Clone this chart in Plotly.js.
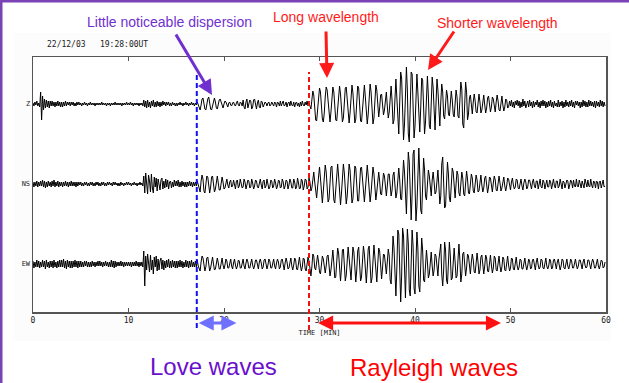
<!DOCTYPE html>
<html>
<head>
<meta charset="utf-8">
<script src="https://cdn.plot.ly/plotly-3.0.1.min.js"></script>
<style>
html,body{margin:0;padding:0;background:#fff;}
#chart{width:629px;height:383px;}
</style>
</head>
<body>
<div id="chart"></div>
<script>
var sampleStep = 0.1; // minutes
var channels = ['Z', 'NS', 'EW'];
var xTickVals = [0, 10, 20, 30, 40, 50, 60];
var xTickText = ['0', '10', '20', '30', '40', '50', '60'];
var recordStamp = '22/12/03   19:28:00UT';

var zTrace = [
 1,-2,2,-1,3,-2,1,-3,12,-16,
 8,-6,5,-4,4,-3,3,-4,3,-2,
 3,-2,2,-3,2,-2,3,-2,2,-3,
 2,-3,2,-2,3,-2,2,-1,2,-2,
 2,-1,2,-2,1,-2,2,-1,2,-1,
 1,-2,1,-1,2,-1,1,-2,1,-1,
 2,-1,1,-1,1,-2,1,-1,1,-1,
 1,-1,2,-1,1,-1,1,-2,1,-1,
 1,-2,1,-1,1,-1,2,-1,1,-1,
 1,-1,1,-2,1,-1,1,-1,2,-1,
 1,-1,2,-1,1,-2,1,-1,1,-1,
 1,-2,1,-1,1,-2,4,-3,3,-4,
 4,-3,2,-4,3,-2,4,-3,2,-3,
 3,-2,2,-3,2,-2,3,-1,2,-2,
 2,-1,2,-2,1,-2,2,-1,1,-2,
 1,-2,1,-1,2,-1,1,-2,1,-1,
 2,-1,1,-2,1,-1,2,-1,1,-2,
 1,-1,2,-1,-4,-6,-1,5,6,1,
 -5,-6,0,5,7,2,-5,-6,-1,4,
 6,2,-4,-5,0,4,5,1,-3,-4,
 0,3,2,-2,-3,1,2,-1,-2,1,
 2,-1,-2,1,3,-1,-2,2,1,-2,
 4,-3,-5,2,5,-4,-1,4,3,-5,
 -3,4,5,-2,-5,1,4,-3,-4,3,
 2,-3,-1,2,1,-2,1,2,-2,-1,
 2,-1,-2,2,1,-3,2,1,-2,3,
 -2,1,3,-2,-1,2,-3,1,2,-2,
 3,-1,-2,2,-3,1,2,-2,1,-3,
 2,-2,3,-1,-2,2,-1,3,-2,1,
 -2,-5,4,13,9,-6,-16,-17,-6,8,
 16,12,-2,-15,-18,-9,7,17,14,0,
 -14,-18,-8,8,17,12,-3,-16,-17,-4,
 11,18,10,-7,-18,-14,2,16,17,5,
 -12,-19,-9,9,19,11,-6,-19,-15,3,
 18,16,-1,-17,-18,-3,14,19,7,-11,
 -20,-10,9,20,12,-8,-20,-14,5,19,
 14,-6,-13,-4,9,10,-3,-11,-6,8,
 12,-2,-14,-8,10,18,3,-20,-16,12,
 25,6,-22,-30,2,32,26,-14,-36,-20,
 18,37,14,-30,-38,-5,32,30,-8,-34,
 -22,14,30,12,-20,-28,-4,26,24,-10,
 -30,-18,16,28,8,-22,-25,4,27,16,
 -18,-26,0,25,14,-14,-22,2,20,12,
 -12,-15,3,14,8,-10,-12,5,13,4,
 -10,-13,4,14,7,-12,-14,6,22,15,
 -20,-24,2,22,12,-16,-10,6,9,-4,
 -10,2,10,3,-8,-9,4,10,2,-9,
 -6,5,9,-1,-9,-4,6,8,-2,-8,
 -3,7,5,-5,-8,2,9,3,-6,-7,
 3,8,-1,-7,-3,5,4,-4,-3,3,
 -2,4,-3,2,-4,3,-1,4,-2,3,
 -4,2,-3,5,-2,3,-4,1,3,-3,
 4,-2,2,-4,3,-3,2,-1,4,-3,
 2,-4,3,-2,4,-2,3,-4,2,-3,
 3,-2,4,-3,2,-4,3,-2,1,-3,
 4,-3,2,-2,3,-4,2,-3,4,-2,
 2,-3,3,-2,4,-3,2,-4,3,-1,
 3,-2,2,-4,2,-3,4,-2,3,-3,
 2,-3,4,-2,3,-2,2,-3,3,-4,
 3,-2,2,-3,4,-2,3,-3,2,-2
];

var nsTrace = [
 2,-3,2,-2,3,-3,2,-2,3,-2,
 4,-3,3,-4,2,-3,3,-2,2,-3,
 3,-2,4,-3,2,-2,3,-3,2,-2,
 2,-3,2,-2,3,-2,2,-3,2,-2,
 3,-2,2,-2,2,-3,2,-2,2,-1,
 2,-2,1,-2,2,-1,2,-2,1,-2,
 2,-1,2,-2,1,-2,2,-1,2,-2,
 1,-2,2,-1,2,-2,1,-2,2,-1,
 2,-1,1,-2,2,-1,2,-1,1,-2,
 1,-2,2,-1,1,-2,1,-1,2,-1,
 2,-1,1,-2,1,-1,2,-1,1,-2,
 1,-1,2,-1,1,-2,8,-9,11,-6,
 -10,9,3,-8,10,-4,-9,7,-3,6,
 -7,5,-2,-6,4,6,-5,3,-4,5,
 -3,4,-5,2,3,-4,2,-3,4,-2,
 3,-2,4,-3,2,-3,3,-2,2,-3,
 2,-3,2,-2,3,-2,2,-3,2,-2,
 2,-2,3,-1,-6,-8,3,9,5,-7,
 -9,-1,8,7,-4,-9,-3,7,8,-2,
 -8,-5,5,8,1,-6,-6,3,7,2,
 -5,-4,3,5,-1,-4,2,4,-3,-2,
 4,-2,-5,3,4,-4,-2,5,1,-4,
 -3,5,2,-5,-1,4,3,-4,-3,5,
 1,-5,-2,4,3,-3,-4,2,5,-1,
 -5,3,4,-4,-2,5,1,-5,-3,4,
 3,-4,-2,5,1,-5,-2,4,3,-4,
 -3,5,2,-5,-2,4,3,-5,-1,5,
 2,-4,-4,5,2,-5,-3,6,1,-5,
 -4,5,3,-6,-2,5,4,-5,-3,6,
 2,-7,-4,8,12,2,-10,-14,-3,12,
 17,6,-12,-19,-7,10,19,12,-6,-18,
 -15,1,17,18,2,-16,-19,-4,14,20,
 8,-12,-21,-9,10,20,11,-9,-20,-12,
 7,20,14,-4,-19,-15,3,18,16,-2,
 -17,-17,-1,16,17,3,-14,-18,-6,13,
 19,8,-11,-18,-9,9,17,10,-7,-16,
 -8,7,12,3,-10,-11,2,11,8,-7,
 -12,-2,10,10,-3,-12,-6,9,12,-1,
 -14,-9,8,16,4,-15,-16,6,24,12,
 -20,-30,2,32,22,-18,-36,-10,30,34,
 -4,-37,-22,18,36,10,-26,-30,4,26,
 14,-12,-16,2,14,8,-8,-12,4,12,
 2,-10,-8,6,14,-2,-20,-12,20,27,
 6,-24,-22,8,22,10,-14,-18,2,16,
 12,-8,-14,0,13,9,-9,-12,3,12,
 6,-10,-12,4,13,5,-9,-10,2,10,
 6,-7,-9,3,9,4,-8,-7,4,9,
 -1,-8,-4,6,8,-2,-9,-3,7,6,
 -4,-8,1,8,4,-6,-7,3,8,1,
 -7,-4,5,7,-2,-7,-2,6,5,-4,
 -6,2,6,-1,-5,-3,5,4,-4,-5,
 3,5,-2,-6,1,5,2,-5,-3,4,
 4,-3,-5,2,5,-2,-4,3,3,-5,
 -1,5,-3,-4,4,2,-5,1,4,-3,
 -3,4,2,-5,-1,5,-2,-4,3,3,
 -4,-2,5,1,-5,3,2,-4,-1,4,
 3,-5,-1,4,2,-4,4,-2,-3,5,
 -2,-3,4,1,-4,3,-2,-4,5,-1,
 -3,4,-2,-3,5,-1,-4,3,2,-4,
 3,2,-5,2,3,-4,1,4,-3,-2
];

var ewTrace = [
 3,-4,2,-3,4,-3,3,-4,2,-3,
 4,-3,3,-5,4,-3,2,-4,3,-3,
 3,-4,4,-3,2,-4,3,-3,4,-3,
 4,-3,5,-4,3,-5,4,-3,3,-4,
 3,-4,3,-3,4,-3,3,-4,3,-3,
 3,-3,2,-3,3,-2,3,-3,2,-3,
 2,-3,3,-2,2,-3,2,-2,3,-2,
 3,-2,2,-3,2,-2,3,-2,2,-3,
 2,-3,4,-3,3,-4,3,-3,2,-2,
 2,-2,3,-2,2,-3,2,-2,2,-2,
 2,-2,2,-3,2,-2,2,-2,3,-2,
 2,-3,2,-2,2,-3,13,-22,8,-6,
 10,-4,-8,9,-6,4,-10,7,-3,8,
 -7,5,-6,3,6,-5,4,-6,3,-4,
 4,-3,5,-4,3,-4,4,-3,3,-4,
 3,-4,3,-3,4,-3,3,-4,2,-3,
 4,-3,3,-4,3,-3,4,-3,2,-3,
 3,-3,4,-2,-5,-7,2,8,6,-4,
 -7,-3,6,7,-2,-7,-4,5,7,0,
 -6,-5,4,6,1,-5,-5,3,6,-1,
 -5,-1,5,3,-4,-4,3,5,-2,-5,
 1,5,-1,-5,-2,4,3,-4,-4,3,
 5,-2,-5,1,5,2,-4,-4,3,5,
 -1,-5,-2,4,4,-3,-5,2,5,1,
 -5,-3,4,5,-2,-5,-1,5,3,-4,
 -4,3,5,-2,-5,1,5,2,-5,-3,
 4,5,-3,-6,1,6,2,-5,-4,4,
 6,-2,-6,-1,6,4,-5,-6,3,7,
 -1,-7,-3,6,5,-5,-7,2,7,3,
 -6,-12,-3,10,8,-4,-6,5,9,2,
 -8,-10,3,8,5,-4,-9,-2,8,9,
 -3,-12,-6,10,14,1,-14,-13,5,16,
 11,-9,-17,-4,14,15,-3,-17,-11,8,
 17,6,-12,-16,1,17,12,-8,-18,-6,
 13,17,-1,-17,-13,6,18,10,-10,-19,
 -4,15,18,-2,-19,-14,8,19,7,-13,
 -18,0,16,13,-7,-15,-4,10,9,-5,
 -10,2,15,8,-16,-20,6,28,16,-22,
 -32,-4,34,30,-16,-38,-12,36,28,-20,
 -34,2,35,20,-26,-32,8,34,18,-24,
 -30,6,32,16,-22,-28,4,26,14,-16,
 -18,6,14,2,-14,-10,8,12,-2,-12,
 -6,10,8,-8,-12,4,14,20,-10,-22,
 -6,22,14,-16,-20,6,22,8,-16,-14,
 6,16,2,-14,-12,8,20,4,-18,-10,
 10,12,-4,-12,-4,10,8,-6,-10,2,
 10,4,-8,-9,3,11,2,-10,-6,7,
 9,-3,-10,-2,9,6,-7,-8,4,9,
 -1,-9,-4,8,6,-6,-7,4,8,-2,
 -8,-3,7,5,-6,-7,3,8,-1,-7,
 -4,6,5,-5,-6,3,7,-2,-6,-3,
 5,4,-5,-5,2,6,-1,-6,-2,5,
 3,-5,-4,4,5,-3,-6,2,6,-1,
 -5,-3,5,4,-4,-5,3,6,-2,-5,
 -2,5,3,-5,-4,4,5,-3,-5,2,
 5,-1,-6,-2,5,4,-4,-5,3,5,
 -2,-5,-1,5,3,-4,-4,2,5,-1,
 -5,-2,4,4,-3,-5,2,5,-1,-4,
 -3,4,4,-3,-5,1,5,2,-4,-4,
 3,5,-2,-5,-1,4,3,-4,-3,2
];

// wave-onset markers (minutes) and wave-window arrows (minutes)
var loveOnset = 17.15, rayleighOnset = 28.9;
var loveSpan = [17.2, 21.3];
var rayleighSpan = [29.7, 49.0];

// ---- Layout geometry ----
var W = 629, H = 383;
var L = 33, R = 606, T = 57, B = 312;
var xMax = 60, yMax = 255;
var offsets = [208, 128, 48]; // baselines of Z, NS, EW
function px(xp) { return (xp - L) / (R - L); }
function py(yp) { return (B - yp) / (B - T); }
function tx(t) { return t / xMax; }

var series = [zTrace, nsTrace, ewTrace];
var traces = series.map(function (arr, i) {
  return {
    type: 'scatter', mode: 'lines',
    x0: 0, dx: sampleStep,
    y: arr.map(function (v) { return v + offsets[i]; }),
    line: { color: '#000', width: 1 },
    hoverinfo: 'skip', showlegend: false
  };
});

var purple = '#7030d0';
var red = '#ff1a1a';

var shapes = [
  // faint backdrop of the seismogram image
  { type: 'rect', xref: 'paper', yref: 'paper', x0: px(14), x1: px(611), y0: py(341), y1: py(33),
    fillcolor: '#fcfcfc', line: { width: 0 }, layer: 'below' },
  { type: 'rect', xref: 'paper', yref: 'paper', x0: 0, x1: 1, y0: 0, y1: 1,
    fillcolor: '#ffffff', line: { width: 0 }, layer: 'below' },
  // slide border (purple)
  { type: 'rect', xref: 'paper', yref: 'paper', x0: px(0), x1: px(W), y0: py(2.5), y1: py(0),
    fillcolor: '#7a42b4', line: { width: 0 } },
  { type: 'rect', xref: 'paper', yref: 'paper', x0: px(0), x1: px(2.5), y0: py(H), y1: py(0),
    fillcolor: '#7a42b4', line: { width: 0 } },
  // onset lines
  { type: 'line', xref: 'paper', yref: 'paper', x0: tx(loveOnset), x1: tx(loveOnset), y0: py(328), y1: py(72),
    line: { color: '#1010f0', width: 2, dash: '5px,3px' } },
  { type: 'line', xref: 'paper', yref: 'paper', x0: tx(rayleighOnset), x1: tx(rayleighOnset), y0: py(330), y1: py(72),
    line: { color: '#f01010', width: 2, dash: '5px,3px' } }
];

var annotations = [
  { xref: 'paper', yref: 'paper', x: px(45), y: py(45), xanchor: 'left', yanchor: 'middle',
    text: recordStamp, showarrow: false, font: { family: 'DejaVu Sans Mono', size: 8, color: '#222' } },
  { xref: 'paper', yref: 'paper', x: px(169), y: py(22), xanchor: 'center', yanchor: 'middle',
    text: 'Little noticeable dispersion', showarrow: false, font: { family: 'Liberation Sans', size: 14, color: purple } },
  { xref: 'paper', yref: 'paper', x: px(326), y: py(17), xanchor: 'center', yanchor: 'middle',
    text: 'Long wavelength', showarrow: false, font: { family: 'Liberation Sans', size: 14, color: red } },
  { xref: 'paper', yref: 'paper', x: px(497), y: py(23), xanchor: 'center', yanchor: 'middle',
    text: 'Shorter wavelength', showarrow: false, font: { family: 'Liberation Sans', size: 14, color: red } },
  { xref: 'paper', yref: 'paper', x: px(212), y: py(95), ax: -37, ay: -62, text: '', showarrow: true,
    arrowhead: 2, arrowsize: 1, arrowwidth: 3, arrowcolor: purple },
  { xref: 'paper', yref: 'paper', x: px(327), y: py(78), ax: -1, ay: -48, text: '', showarrow: true,
    arrowhead: 2, arrowsize: 1, arrowwidth: 3, arrowcolor: red },
  { xref: 'paper', yref: 'paper', x: px(428), y: py(70), ax: 27, ay: -40, text: '', showarrow: true,
    arrowhead: 2, arrowsize: 1, arrowwidth: 3, arrowcolor: red },
  { xref: 'paper', yref: 'paper', x: tx(loveSpan[1]), y: py(323), ax: -(loveSpan[1] - loveSpan[0]) * (R - L) / xMax, ay: 0,
    text: '', showarrow: true, arrowside: 'end+start', arrowhead: 2, arrowsize: 1, arrowwidth: 3, arrowcolor: '#7070ff' },
  { xref: 'paper', yref: 'paper', x: tx(rayleighSpan[1]), y: py(323), ax: -(rayleighSpan[1] - rayleighSpan[0]) * (R - L) / xMax, ay: 0,
    text: '', showarrow: true, arrowside: 'end+start', arrowhead: 2, arrowsize: 1, arrowwidth: 3, arrowcolor: '#ff1010' },
  { xref: 'paper', yref: 'paper', x: px(213), y: py(366), xanchor: 'center', yanchor: 'middle',
    text: 'Love waves', showarrow: false, font: { family: 'Liberation Sans', size: 24, color: '#6a10cc' } },
  { xref: 'paper', yref: 'paper', x: px(434), y: py(367), xanchor: 'center', yanchor: 'middle',
    text: 'Rayleigh waves', showarrow: false, font: { family: 'Liberation Sans', size: 24, color: '#ff0000' } }
];

var layout = {
  width: W, height: H,
  margin: { l: L, r: W - R, t: T, b: H - B, pad: 0 },
  paper_bgcolor: '#ffffff',
  plot_bgcolor: 'rgba(0,0,0,0)',
  showlegend: false,
  xaxis: {
    range: [0, xMax], showgrid: false, zeroline: false,
    showline: true, linecolor: '#555', linewidth: 1.5, mirror: 'ticks',
    ticks: 'inside', ticklen: 4, tickwidth: 1, tickcolor: '#555',
    tickvals: xTickVals, ticktext: xTickText,
    tickfont: { family: 'DejaVu Sans Mono', size: 8, color: '#222' },
    title: { text: 'TIME [MIN]', standoff: 6, font: { family: 'DejaVu Sans Mono', size: 7, color: '#222' } }
  },
  yaxis: {
    range: [0, yMax], showgrid: false, zeroline: false,
    showline: true, linecolor: '#555', linewidth: 1.5, mirror: true,
    ticks: '', tickvals: offsets, ticktext: channels,
    tickfont: { family: 'DejaVu Sans Mono', size: 7, color: '#222' }
  },
  shapes: shapes,
  annotations: annotations
};

Plotly.newPlot('chart', traces, layout, { staticPlot: true, displayModeBar: false });
</script>
</body>
</html>
